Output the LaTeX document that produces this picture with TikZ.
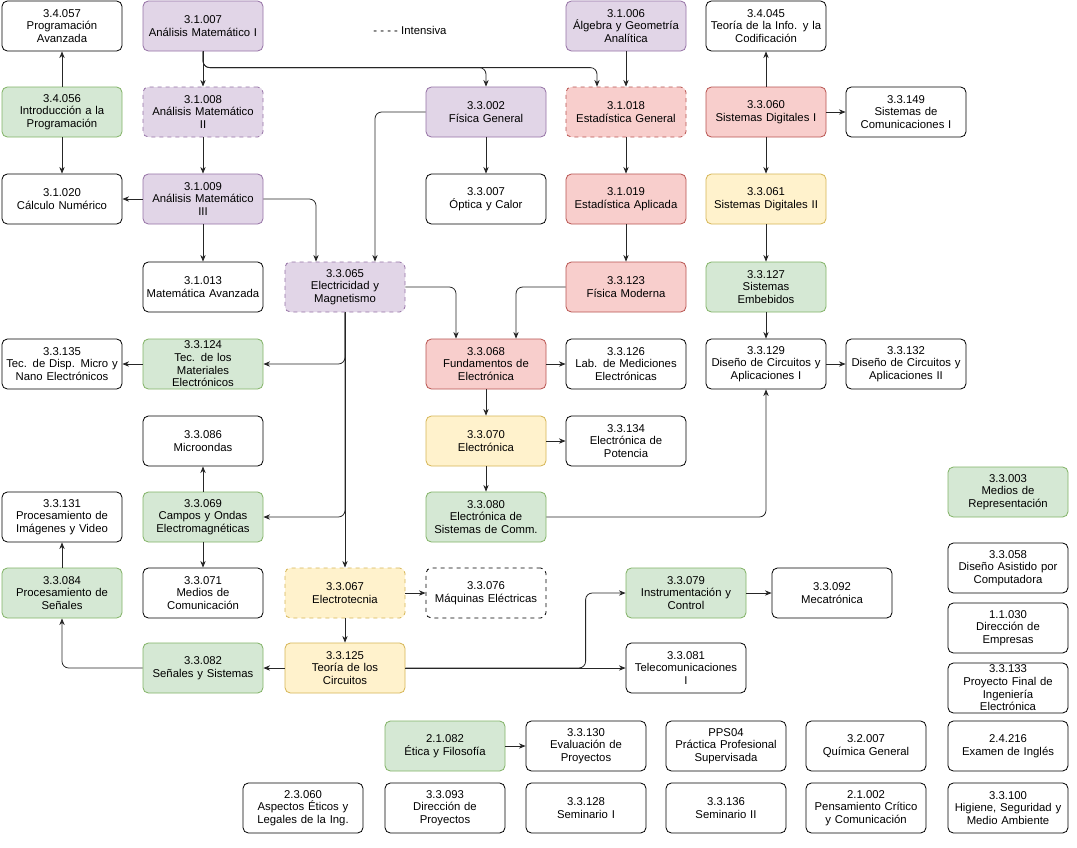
\documentclass[tikz,border=0pt]{standalone}
\usepackage{fontspec}
\setmainfont{Liberation Sans}
\usetikzlibrary{calc,arrows.meta}
\definecolor{pf}{HTML}{E1D5E7}\definecolor{pd}{HTML}{9673A6}
\definecolor{gf}{HTML}{D5E8D4}\definecolor{gd}{HTML}{82B366}
\definecolor{rf}{HTML}{F8CECC}\definecolor{rd}{HTML}{B85450}
\definecolor{yf}{HTML}{FFF2CC}\definecolor{yd}{HTML}{D6B656}
\begin{document}
\begin{tikzpicture}[x=0.75pt,y=-0.75pt,
 box/.style={draw=black,fill=white,rounded corners=4pt,minimum width=90pt,minimum height=37.5pt,text width=86pt,align=center,font=\fontsize{8.5}{9.5}\selectfont,inner sep=1pt,line width=0.6pt},
 wh/.style={box},
 pu/.style={box,fill=pf,draw=pd},
 gr/.style={box,fill=gf,draw=gd},
 re/.style={box,fill=rf,draw=rd},
 ye/.style={box,fill=yf,draw=yd},
 dsh/.style={dashed},
 arr/.style={draw=black!85,line width=0.6pt,-{Stealth[length=5pt,width=4pt]},rounded corners=5pt}]
\useasboundingbox (0,0) rectangle (1077,847);
\fill[white] (0,0) rectangle (1077,847);
\newcommand\bx[5]{\node[#4] (#1) at (#2,#3) {#5};}
% row1
\bx{n34057}{62}{26}{wh}{3.4.057\\Programación\\Avanzada}
\bx{n31007}{203}{26}{pu}{3.1.007\\Análisis Matemático I}
\node[font=\fontsize{8.5}{9.5}\selectfont] (leg) at (410,30) {- - - - Intensiva};
\bx{n31006}{626}{26}{pu}{3.1.006\\Álgebra y Geometría\\Analítica}
\bx{n34045}{766}{26}{wh}{3.4.045\\Teoría de la Info. y la\\Codificación}
% row2
\bx{n34056}{62}{112}{gr}{3.4.056\\Introducción a la\\Programación}
\bx{n31008}{203}{112}{pu,dsh}{3.1.008\\Análisis Matemático\\II}
\bx{n33002}{486}{112}{pu}{3.3.002\\Física General}
\bx{n31018}{626}{112}{re,dsh}{3.1.018\\Estadística General}
\bx{n33060}{766}{112}{re}{3.3.060\\Sistemas Digitales I}
\bx{n33149}{906}{112}{wh}{3.3.149\\Sistemas de\\Comunicaciones I}
% row3
\bx{n31020}{62}{199}{wh}{3.1.020\\Cálculo Numérico}
\bx{n31009}{203}{199}{pu}{3.1.009\\Análisis Matemático\\III}
\bx{n33007}{486}{199}{wh}{3.3.007\\Óptica y Calor}
\bx{n31019}{626}{199}{re}{3.1.019\\Estadística Aplicada}
\bx{n33061}{766}{199}{ye}{3.3.061\\Sistemas Digitales II}
% row4
\bx{n31013}{203}{287}{wh}{3.1.013\\Matemática Avanzada}
\bx{n33065}{345}{287}{pu,dsh}{3.3.065\\Electricidad y\\Magnetismo}
\bx{n33123}{626}{287}{re}{3.3.123\\Física Moderna}
\bx{n33127}{766}{287}{gr}{3.3.127\\Sistemas\\Embebidos}
% row5
\bx{n33135}{62}{364}{wh}{3.3.135\\Tec. de Disp. Micro y\\Nano Electrónicos}
\bx{n33124}{203}{364}{gr}{3.3.124\\Tec. de los\\Materiales\\Electrónicos}
\bx{n33068}{486}{364}{re}{3.3.068\\Fundamentos de\\Electrónica}
\bx{n33126}{626}{364}{wh}{3.3.126\\Lab. de Mediciones\\Electrónicas}
\bx{n33129}{766}{364}{wh}{3.3.129\\Diseño de Circuitos y\\Aplicaciones I}
\bx{n33132}{906}{364}{wh}{3.3.132\\Diseño de Circuitos y\\Aplicaciones II}
% row6
\bx{n33086}{203}{441}{wh}{3.3.086\\Microondas}
\bx{n33070}{486}{441}{ye}{3.3.070\\Electrónica}
\bx{n33134}{626}{441}{wh}{3.3.134\\Electrónica de\\Potencia}
% row7
\bx{n33131}{62}{517}{wh}{3.3.131\\Procesamiento de\\Imágenes y Video}
\bx{n33069}{203}{517}{gr}{3.3.069\\Campos y Ondas\\Electromagnéticas}
\bx{n33080}{486}{517}{gr}{3.3.080\\Electrónica de\\Sistemas de Comm.}
\bx{n33003}{1008}{492}{gr}{3.3.003\\Medios de\\Representación}
% row8
\bx{n33084}{62}{593}{gr}{3.3.084\\Procesamiento de\\Señales}
\bx{n33071}{203}{593}{wh}{3.3.071\\Medios de\\Comunicación}
\bx{n33067}{345}{593}{ye,dsh}{3.3.067\\Electrotecnia}
\bx{n33076}{486}{593}{wh,dsh}{3.3.076\\Máquinas Eléctricas}
\bx{n33079}{686}{593}{gr}{3.3.079\\Instrumentación y\\Control}
\bx{n33092}{832}{593}{wh}{3.3.092\\Mecatrónica}
\bx{n33058}{1008}{568}{wh}{3.3.058\\Diseño Asistido por\\Computadora}
% row9
\bx{n33082}{203}{668}{gr}{3.3.082\\Señales y Sistemas}
\bx{n33125}{345}{668}{ye}{3.3.125\\Teoría de los\\Circuitos}
\bx{n33081}{686}{668}{wh}{3.3.081\\Telecomunicaciones\\I}
\bx{n11030}{1008}{628}{wh}{1.1.030\\Dirección de\\Empresas}
\bx{n33133}{1008}{688}{wh}{3.3.133\\Proyecto Final de\\Ingeniería\\Electrónica}
% row10
\bx{n21082}{445}{746}{gr}{2.1.082\\Ética y Filosofía}
\bx{n33130}{586}{746}{wh}{3.3.130\\Evaluación de\\Proyectos}
\bx{npps}{726}{746}{wh}{PPS04\\Práctica Profesional\\Supervisada}
\bx{n32007}{866}{746}{wh}{3.2.007\\Química General}
\bx{n24216}{1008}{746}{wh}{2.4.216\\Examen de Inglés}
% row11
\bx{n23060}{303}{808}{wh}{2.3.060\\Aspectos Éticos y\\Legales de la Ing.}
\bx{n33093}{445}{808}{wh}{3.3.093\\Dirección de\\Proyectos}
\bx{n33128}{586}{808}{wh}{3.3.128\\Seminario I}
\bx{n33136}{726}{808}{wh}{3.3.136\\Seminario II}
\bx{n21002}{866}{808}{wh}{2.1.002\\Pensamiento Crítico\\y Comunicación}
\bx{n33100}{1008}{808}{wh}{3.3.100\\Higiene, Seguridad y\\Medio Ambiente}
% edges
\draw[arr] (n34056)--(n34057);
\draw[arr] (n34056)--(n31020);
\draw[arr] (n31007)--(n31008);
\draw[arr] (n31008)--(n31009);
\draw[arr] (n31007.south) |- ($(n33002.north)+(0,-19)$) -- (n33002.north);
\draw[arr] (n31007.south) |- ($(n31018.north)+(-29,-19)$) -- ($(n31018.north)+(-29,0)$);
\draw[arr] (n31006)--(n31018);
\draw[arr] (n31018)--(n31019);
\draw[arr] (n31019)--(n33123);
\draw[arr] (n33123.west) -| ($(n33068.north)+(30,0)$);
\draw[arr] (n33002)--(n33007);
\draw[arr] (n33002.west) -| ($(n33065.north)+(30,0)$);
\draw[arr] (n31009)--(n31020);
\draw[arr] (n31009)--(n31013);
\draw[arr] (n31009.east) -| ($(n33065.north)+(-29,0)$);
\draw[arr] (n33065.east) -| ($(n33068.north)+(-30,0)$);
\draw[arr] (n33065.south) |- (n33124.east);
\draw[arr] (n33065.south) |- (n33069.east);
\draw[arr] (n33065)--(n33067);
\draw[arr] (n33124)--(n33135);
\draw[arr] (n33069)--(n33086);
\draw[arr] (n33069)--(n33071);
\draw[arr] (n33084)--(n33131);
\draw[arr] (n33067)--(n33076);
\draw[arr] (n33067)--(n33125);
\draw[arr] (n33125)--(n33082);
\draw[arr] (n33082.west) -| (n33084.south);
\draw[arr] (n33125.east) -| ($(n33079.west)+(-40,0)$) -- (n33079.west);
\draw[arr] (n33125.east)--(n33081.west);
\draw[arr] (n33079)--(n33092);
\draw[arr] (n33068)--(n33126);
\draw[arr] (n33068)--(n33070);
\draw[arr] (n33070)--(n33134);
\draw[arr] (n33070)--(n33080);
\draw[arr] (n33080.east) -| (n33129.south);
\draw[arr] (n33060)--(n34045);
\draw[arr] (n33060)--(n33149);
\draw[arr] (n33060)--(n33061);
\draw[arr] (n33061)--(n33127);
\draw[arr] (n33127)--(n33129);
\draw[arr] (n33129)--(n33132);
\draw[arr] (n21082)--(n33130);
\end{tikzpicture}
\end{document}
